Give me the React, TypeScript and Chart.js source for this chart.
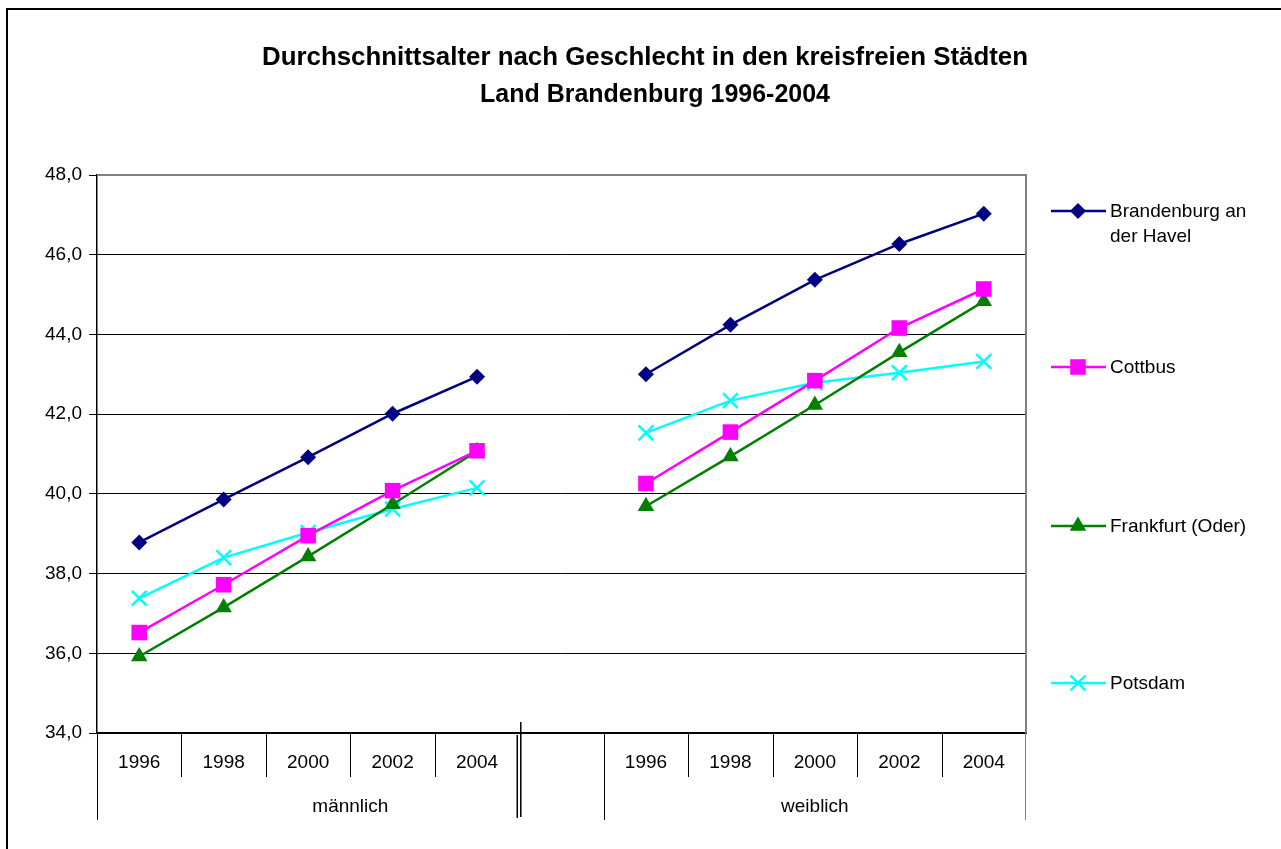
import React, { useEffect, useRef } from "react";
import { Chart, registerables } from "chart.js";

Chart.register(...registerables);

const titleLines = [
  "Durchschnittsalter nach Geschlecht in den kreisfreien Städten",
  "Land Brandenburg 1996-2004",
];
const years = ["1996", "1998", "2000", "2002", "2004"];
const groups = ["männlich", "weiblich"];
const yTicks = [34, 36, 38, 40, 42, 44, 46, 48];

const brandenburgM = [38.78, 39.86, 40.92, 42.01, 42.94];
const brandenburgW = [43.0, 44.24, 45.37, 46.27, 47.03];
const cottbusM = [36.52, 37.72, 38.95, 40.08, 41.08];
const cottbusW = [40.26, 41.55, 42.84, 44.16, 45.14];
const frankfurtM = [35.92, 37.15, 38.43, 39.74, 41.07];
const frankfurtW = [39.69, 40.94, 42.23, 43.55, 44.83];
const potsdamM = [37.38, 38.4, 39.03, 39.62, 40.15];
const potsdamW = [41.53, 42.34, 42.79, 43.04, 43.32];

const seriesNames = ["Brandenburg an der Havel", "Cottbus", "Frankfurt (Oder)", "Potsdam"];
const legendLines = [["Brandenburg an", "der Havel"], ["Cottbus"], ["Frankfurt (Oder)"], ["Potsdam"]];

const FONT = '"Liberation Sans", Arial, sans-serif';

const labels = [
  ...years.map((y) => groups[0] + " " + y),
  "",
  ...years.map((y) => groups[1] + " " + y),
];

const join = (m: number[], w: number[]) => [...m, null, ...w];

const styles = [
  { color: "#000080", pointStyle: "rectRot", radius: 8 },
  { color: "#FF00FF", pointStyle: "rect", radius: 11 },
  { color: "#008000", pointStyle: "triangle", radius: 9.5 },
  { color: "#00FFFF", pointStyle: "crossRot", radius: 10.5 },
];

function drawMarker(ctx: CanvasRenderingContext2D, style: string, x: number, y: number, r: number, color: string) {
  ctx.save();
  ctx.fillStyle = color;
  ctx.strokeStyle = color;
  ctx.lineWidth = 2.5;
  ctx.beginPath();
  if (style === "rectRot") {
    ctx.moveTo(x - r, y);
    ctx.lineTo(x, y - r);
    ctx.lineTo(x + r, y);
    ctx.lineTo(x, y + r);
    ctx.closePath();
    ctx.fill();
  } else if (style === "rect") {
    const s = Math.SQRT1_2 * r;
    ctx.rect(x - s, y - s, 2 * s, 2 * s);
    ctx.fill();
  } else if (style === "triangle") {
    ctx.moveTo(x, y - r);
    ctx.lineTo(x + r * 0.866, y + r * 0.5);
    ctx.lineTo(x - r * 0.866, y + r * 0.5);
    ctx.closePath();
    ctx.fill();
  } else {
    const o = r * Math.SQRT1_2;
    ctx.moveTo(x - o, y - o);
    ctx.lineTo(x + o, y + o);
    ctx.moveTo(x + o, y - o);
    ctx.lineTo(x - o, y + o);
    ctx.stroke();
  }
  ctx.restore();
}

function fitText(ctx: CanvasRenderingContext2D, text: string, cx: number, cy: number, width: number) {
  const w = ctx.measureText(text).width;
  ctx.save();
  ctx.translate(cx, cy);
  ctx.scale(width / w, 1);
  ctx.fillText(text, 0, 0);
  ctx.restore();
}

const decorPlugin = {
  id: "decor",
  afterDraw(chart: any) {
    const ctx: CanvasRenderingContext2D = chart.ctx;
    const area = chart.chartArea;
    const xs = chart.scales.x;
    ctx.save();
    // outer border
    ctx.strokeStyle = "#000";
    ctx.lineWidth = 2;
    ctx.strokeRect(7, 9, 1400, 1000);

    // plot border top/right (gray)
    ctx.strokeStyle = "#808080";
    ctx.lineWidth = 2;
    ctx.beginPath();
    ctx.moveTo(area.left, area.top);
    ctx.lineTo(area.right, area.top);
    ctx.lineTo(area.right, area.bottom);
    ctx.stroke();

    // title (slightly condensed bold)
    ctx.fillStyle = "#000";
    ctx.font = "bold 26px " + FONT;
    ctx.textAlign = "center";
    ctx.textBaseline = "middle";
    fitText(ctx, titleLines[0], 645, 58, 766);
    fitText(ctx, titleLines[1], 655, 95, 350);

    // x labels
    const n = labels.length;
    const px = (i: number) => xs.getPixelForValue(i);
    const half = (px(1) - px(0)) / 2;
    const boundary = (i: number) => px(i) - half; // left boundary of category i
    ctx.font = "19px " + FONT;
    years.forEach((y, k) => {
      ctx.fillText(y, px(k), 763);
      ctx.fillText(y, px(k + 6), 763);
    });
    const yb = area.bottom;
    ctx.fillText(groups[0], (boundary(0) + boundary(6)) / 2, 807);
    ctx.fillText(groups[1], (boundary(6) + boundary(n - 1) + 2 * half) / 2, 807);

    ctx.strokeStyle = "#000";
    ctx.lineWidth = 1;
    ctx.beginPath();
    [1, 2, 3, 4, 7, 8, 9, 10].forEach((i) => {
      const bx = Math.round(boundary(i)) + 0.5;
      ctx.moveTo(bx, yb);
      ctx.lineTo(bx, 777);
    });
    [0, 6].forEach((i) => {
      const bx = Math.round(boundary(i)) + 0.5;
      ctx.moveTo(bx, yb);
      ctx.lineTo(bx, 820);
    });
    ctx.stroke();
    ctx.strokeStyle = "#808080";
    ctx.beginPath();
    ctx.moveTo(Math.round(area.right) - 0.5, yb);
    ctx.lineTo(Math.round(area.right) - 0.5, 820);
    ctx.stroke();

    // axis break marks
    const b5 = boundary(5);
    ctx.strokeStyle = "#000";
    ctx.lineWidth = 1.5;
    ctx.beginPath();
    ctx.moveTo(b5 + 1.5, 722);
    ctx.lineTo(b5 + 1.5, 817);
    ctx.moveTo(b5 - 2, 735);
    ctx.lineTo(b5 - 2, 818);
    ctx.stroke();

    // legend
    const legendY = [211, 367, 526, 683];
    ctx.textAlign = "left";
    ctx.font = "19px " + FONT;
    styles.forEach((s, i) => {
      const y = legendY[i];
      ctx.strokeStyle = s.color;
      ctx.lineWidth = 2.5;
      ctx.beginPath();
      ctx.moveTo(1051, y);
      ctx.lineTo(1106, y);
      ctx.stroke();
      drawMarker(ctx, s.pointStyle, 1078, y, s.radius, s.color);
      ctx.fillStyle = "#000";
      legendLines[i].forEach((t, j) => ctx.fillText(t, 1110, y + 1 + j * 25));
    });
    ctx.restore();
  },
};

export default function App() {
  const ref = useRef<HTMLCanvasElement | null>(null);
  useEffect(() => {
    if (!ref.current) return;
    const data = [
      join(brandenburgM, brandenburgW),
      join(cottbusM, cottbusW),
      join(frankfurtM, frankfurtW),
      join(potsdamM, potsdamW),
    ];
    const chart = new Chart(ref.current, {
      type: "line",
      data: {
        labels,
        datasets: data.map((d, i) => ({
          label: seriesNames[i],
          data: d,
          borderColor: styles[i].color,
          backgroundColor: styles[i].color,
          borderWidth: 2.5,
          pointStyle: styles[i].pointStyle as any,
          pointRadius: styles[i].radius,
          pointBorderWidth: styles[i].pointStyle === "crossRot" ? 2.5 : 0,
          pointBorderColor: styles[i].color,
          pointBackgroundColor: styles[i].color,
          spanGaps: false,
          tension: 0,
          clip: false as any,
        })),
      },
      options: {
        responsive: false,
        animation: false,
        devicePixelRatio: 1,
        layout: { padding: { top: 175, right: 255, left: 0, bottom: 0 } },
        plugins: { legend: { display: false }, title: { display: false }, tooltip: { enabled: false } },
        scales: {
          x: {
            type: "category",
            offset: true,
            grid: { display: false },
            ticks: { display: false },
            border: { display: true, color: "#000", width: 2 },
            afterFit: (s: any) => {
              s.height = 116;
            },
          },
          y: {
            min: 34,
            max: 48,
            afterBuildTicks: (s: any) => {
              s.ticks = yTicks.map((v) => ({ value: v }));
            },
            ticks: {
              color: "#000",
              font: { family: FONT, size: 19 },
              padding: 7,
              callback: (v: any) => Number(v).toFixed(1).replace(".", ","),
            },
            grid: {
              color: (c: any) => (c.tick && c.tick.value === 48 ? "#808080" : "#000"),
              tickColor: "#000",
              tickLength: 8,
              lineWidth: 1,
            },
            border: { display: true, color: "#000", width: 1.5 },
            afterFit: (s: any) => {
              s.width = 97;
            },
          },
        },
      },
      plugins: [decorPlugin],
    });
    return () => chart.destroy();
  }, []);
  return (
    <div style={{ position: "absolute", left: 0, top: 0, width: 1281, height: 849, background: "#fff" }}>
      <canvas ref={ref} width={1281} height={849} style={{ display: "block" }} />
    </div>
  );
}
